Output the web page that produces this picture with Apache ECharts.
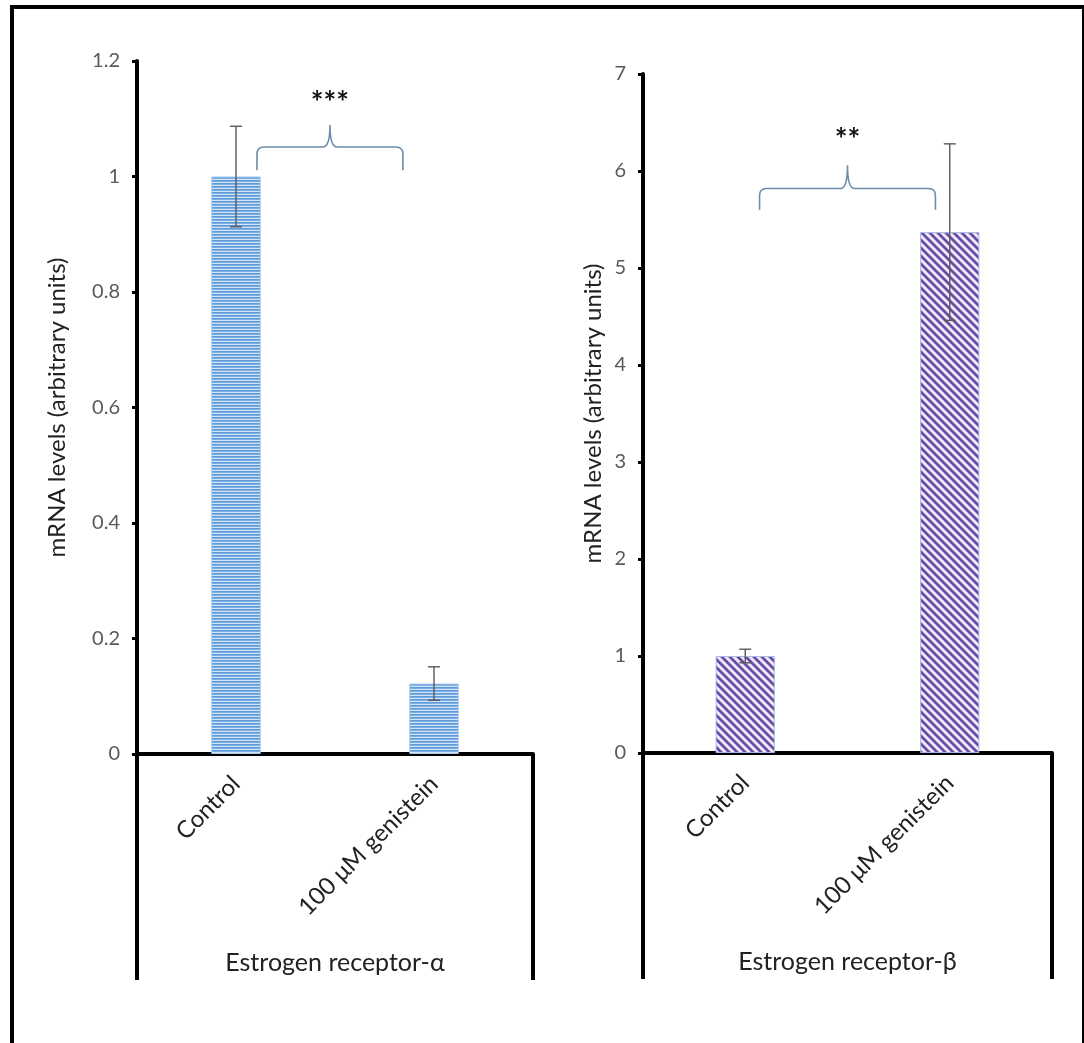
<!DOCTYPE html>
<html><head><meta charset="utf-8">
<script src="https://cdn.jsdelivr.net/npm/echarts@6/dist/echarts.min.js"></script>
<style>html,body{margin:0;padding:0;background:#fff}#c{width:1084px;height:1043px}</style>
</head><body><div id="c"></div>
<script>
// ---- data ----
const categories = ['Control', '100 μM genistein'];
const alphaValues = [1.0, 0.122];
const alphaErrors = [0.087, 0.029];
const betaValues = [1.0, 5.37];
const betaErrors = [0.07, 0.91];
const panelTitles = ['Estrogen receptor-α', 'Estrogen receptor-β'];
const yAxisTitle = 'mRNA levels (arbitrary units)';
const significance = ['***', '**'];

// ---- patterns ----
function stripeH() {
  const c = document.createElement('canvas'); c.width = 4; c.height = 3;
  const g = c.getContext('2d');
  const rows = ['#5f9ad8', '#7cafe3', '#d3e4f5'];
  rows.forEach((col, i) => { g.fillStyle = col; g.fillRect(0, i, 4, 1); });
  return c;
}
function stripeD() {
  const n = 8;
  const c = document.createElement('canvas'); c.width = n; c.height = n;
  const g = c.getContext('2d');
  for (let x = 0; x < n; x++) for (let y = 0; y < n; y++) {
    const d = ((x - y) % n + n) % n;
    g.fillStyle = d < 3 ? '#5e4fa3' : (d === 3 || d === 7) ? '#b3a6dc' : '#f8e4f5';
    g.fillRect(x, y, 1, 1);
  }
  return c;
}

const FONT = 'Lato, "Open Sans", sans-serif';
const G = [
  { left: 137, top: 61, width: 396, height: 693 },
  { left: 643, top: 74, width: 409, height: 679 }
];
const axisExt = 226;

function yAxis(i, max, interval, gap) {
  return {
    type: 'value', gridIndex: i, min: 0, max: max, interval: interval,
    axisLine: { show: true, lineStyle: { color: '#000', width: 4 } },
    axisTick: { show: true, length: 5, lineStyle: { color: '#000', width: 3 } },
    splitLine: { show: false },
    axisLabel: { color: '#595959', fontSize: 20, fontFamily: FONT, margin: 17 },
    name: yAxisTitle, nameLocation: 'middle', nameRotate: 90, nameGap: gap,
    nameTextStyle: { color: '#222', fontSize: 24, fontFamily: FONT }
  };
}
function xAxis(i) {
  return {
    type: 'category', gridIndex: i, data: categories,
    axisLine: { show: true, lineStyle: { color: '#000', width: 4 } },
    axisTick: { show: false },
    axisLabel: { rotate: 45, margin: 26, color: '#222', fontSize: 24, fontFamily: FONT, interval: 0 },
    name: panelTitles[i], nameLocation: 'middle', nameGap: 196,
    nameTextStyle: { color: '#222', fontSize: 25, fontFamily: FONT }
  };
}

function errSeries(i, vals, errs) {
  return {
    type: 'custom', xAxisIndex: i, yAxisIndex: i, z: 5,
    data: vals.map((v, k) => [k, v, errs[k]]),
    renderItem: (params, api) => {
      const x = api.value(0), v = api.value(1), e = api.value(2);
      const top = api.coord([x, v + e]), bot = api.coord([x, v - e]);
      const st = { stroke: '#595959', lineWidth: 1.4 };
      return { type: 'group', children: [
        { type: 'line', shape: { x1: top[0], y1: top[1], x2: bot[0], y2: bot[1] }, style: st },
        { type: 'line', shape: { x1: top[0] - 6, y1: top[1], x2: top[0] + 6, y2: top[1] }, style: st },
        { type: 'line', shape: { x1: bot[0] - 6, y1: bot[1], x2: bot[0] + 6, y2: bot[1] }, style: st }
      ]};
    }
  };
}

// brace annotation: [startCat, endCat, startOffsetFrac, endOffsetFrac, yEnd, yBar, yPeak, yText]
function braceSeries(i, spec, label) {
  return {
    type: 'custom', xAxisIndex: i, yAxisIndex: i, z: 6, silent: true,
    data: [spec],
    renderItem: (params, api) => {
      const band = api.size([1, 0])[0];
      const a = api.coord([api.value(0), api.value(4)]);
      const b = api.coord([api.value(1), api.value(4)]);
      const x0 = a[0] + api.value(2) * band, x1 = b[0] + api.value(3) * band;
      const yE = a[1];
      const yB = api.coord([0, api.value(5)])[1];
      const yP = api.coord([0, api.value(6)])[1];
      const yT = api.coord([0, api.value(7)])[1];
      const xm = (x0 + x1) / 2, r = 7;
      const path = `M${x0},${yE} L${x0},${yB + r} Q${x0},${yB} ${x0 + r},${yB} L${xm - r},${yB} Q${xm},${yB} ${xm},${yP} Q${xm},${yB} ${xm + r},${yB} L${x1 - r},${yB} Q${x1},${yB} ${x1},${yB + r} L${x1},${yE}`;
      return { type: 'group', children: [
        { type: 'path', shape: { pathData: path }, style: { fill: null, stroke: '#6d8cab', lineWidth: 1.6 } },
        { type: 'text', style: { text: label, x: xm, y: yT + 4, align: 'center', verticalAlign: 'middle', fill: '#111', font: 'bold 30px ' + FONT } }
      ]};
    }
  };
}

const chart = echarts.init(document.getElementById('c'), null, { renderer: 'canvas' });
const option = {
  backgroundColor: '#fff',
  animation: false,
  grid: G.map(g => Object.assign({ containLabel: false }, g)),
  xAxis: [xAxis(0), xAxis(1)],
  yAxis: [yAxis(0, 1.2, 0.2, 68), yAxis(1, 7, 1, 38)],
  series: [
    { type: 'bar', xAxisIndex: 0, yAxisIndex: 0, data: alphaValues, barWidth: '25%',
      itemStyle: { color: { image: stripeH(), repeat: 'repeat' }, borderColor: '#a9c9ee', borderWidth: 1 } },
    { type: 'bar', xAxisIndex: 1, yAxisIndex: 1, data: betaValues, barWidth: '29%',
      itemStyle: { color: { image: stripeD(), repeat: 'repeat' }, borderColor: '#a7b9ea', borderWidth: 1 } },
    errSeries(0, alphaValues, alphaErrors),
    errSeries(1, betaValues, betaErrors),
    braceSeries(0, [0, 1, 0.106, -0.157, 1.011, 1.051, 1.089, 1.134], significance[0]),
    braceSeries(1, [0, 1, 0.07, -0.07, 5.60, 5.82, 6.06, 6.36], significance[1])
  ],
  graphic: [
    // outer frame
    { type: 'line', shape: { x1: 12, y1: 5, x2: 12, y2: 1043 }, style: { stroke: '#000', lineWidth: 4 } },
    { type: 'line', shape: { x1: 10, y1: 7, x2: 1084, y2: 7 }, style: { stroke: '#000', lineWidth: 4 } },
    { type: 'line', shape: { x1: 1083, y1: 5, x2: 1083, y2: 1043 }, style: { stroke: '#000', lineWidth: 2 } }
  ].concat(G.flatMap(g => {
    const yb = g.top + g.height;
    return [g.left, g.left + g.width].map(x => ({
      type: 'line', shape: { x1: x, y1: yb, x2: x, y2: yb + axisExt }, style: { stroke: '#000', lineWidth: 4 }
    }));
  }))
};
chart.setOption(option);
</script></body></html>
